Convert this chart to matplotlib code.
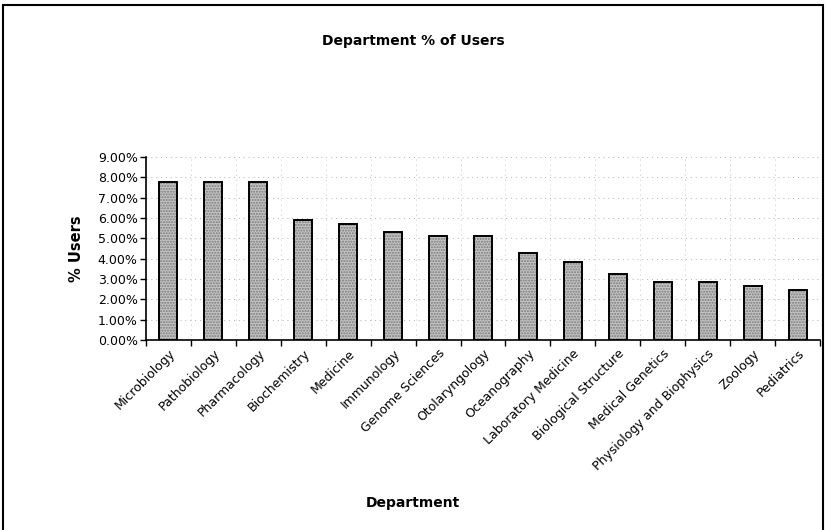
import numpy as np
import matplotlib
matplotlib.use("Agg")
import matplotlib.pyplot as plt
from matplotlib.ticker import FuncFormatter, FixedLocator
from matplotlib.patches import Rectangle

# 학과별 사용자 비율 (%)
departments = [
    "Microbiology", "Pathobiology", "Pharmacology", "Biochemistry", "Medicine",
    "Immunology", "Genome Sciences", "Otolaryngology", "Oceanography",
    "Laboratory Medicine", "Biological Structure", "Medical Genetics",
    "Physiology and Biophysics", "Zoology", "Pediatrics",
]
pct_users = [7.77, 7.77, 7.77, 5.91, 5.70, 5.32, 5.13, 5.13, 4.29, 3.86,
             3.26, 2.87, 2.87, 2.65, 2.44]
y_ticks = [0, 1, 2, 3, 4, 5, 6, 7, 8, 9]

BAR_C = "#c4c4c4"
DOT_C = "#7a7a7a"
GRID_C = "#b0b0b0"

plt.rcParams["font.family"] = ["DejaVu Sans"]

W, H = 826, 530
fig = plt.figure(figsize=(W / 100, H / 100), dpi=100)
ax = fig.add_axes([146 / W, 1 - 340 / H, (820 - 146) / W, (340 - 157) / H])

x = np.arange(len(departments))
# 점묘 느낌의 회색 채움 + 검은 테두리
ax.bar(x, pct_users, width=0.4, color=BAR_C, edgecolor=DOT_C, hatch="......",
       linewidth=0, zorder=3)
ax.bar(x, pct_users, width=0.4, fill=False, edgecolor="black", linewidth=1.4, zorder=4)

ax.set_xlim(-0.5, len(departments) - 0.5)
ax.set_ylim(0, 9)
ax.yaxis.set_major_locator(FixedLocator(y_ticks))
ax.yaxis.set_major_formatter(FuncFormatter(lambda v, _: f"{v:.2f}%"))

# 눈금은 카테고리 경계에, 라벨은 카테고리 중앙에
ax.set_xticks(x)
ax.set_xticklabels(departments, rotation=45, ha="right", rotation_mode="anchor", fontsize=9)
ax.set_xticks(np.arange(len(departments) + 1) - 0.5, minor=True)
ax.tick_params(axis="x", which="major", length=0, pad=5)
ax.tick_params(axis="x", which="minor", length=4, width=1, direction="out")
ax.tick_params(axis="y", length=4, width=1, direction="out", labelsize=9, pad=2)

ax.grid(axis="y", color=GRID_C, linestyle=(0, (1, 4)), linewidth=0.7, zorder=0)
ax.grid(axis="x", which="minor", color=GRID_C, linestyle=(0, (1, 5)), linewidth=0.6, zorder=0)

for s in ["top", "right"]:
    ax.spines[s].set_visible(False)
for s in ["left", "bottom"]:
    ax.spines[s].set_linewidth(1.2)

ax.set_ylabel("% Users", fontsize=10.5, fontweight="bold", labelpad=10)
fig.text(0.5, 1 - 503 / H, "Department", ha="center", va="center", fontsize=10, fontweight="bold")
fig.text(0.5, 1 - 41 / H, "Department % of Users", ha="center", va="center", fontsize=10, fontweight="bold")

# 차트 영역 테두리
fig.add_artist(Rectangle((3 / W, -0.05), (823 - 3) / W, 1.05 - 5 / H, transform=fig.transFigure,
                         fill=False, edgecolor="black", linewidth=1.5))

fig.savefig("out.png", dpi=100)
